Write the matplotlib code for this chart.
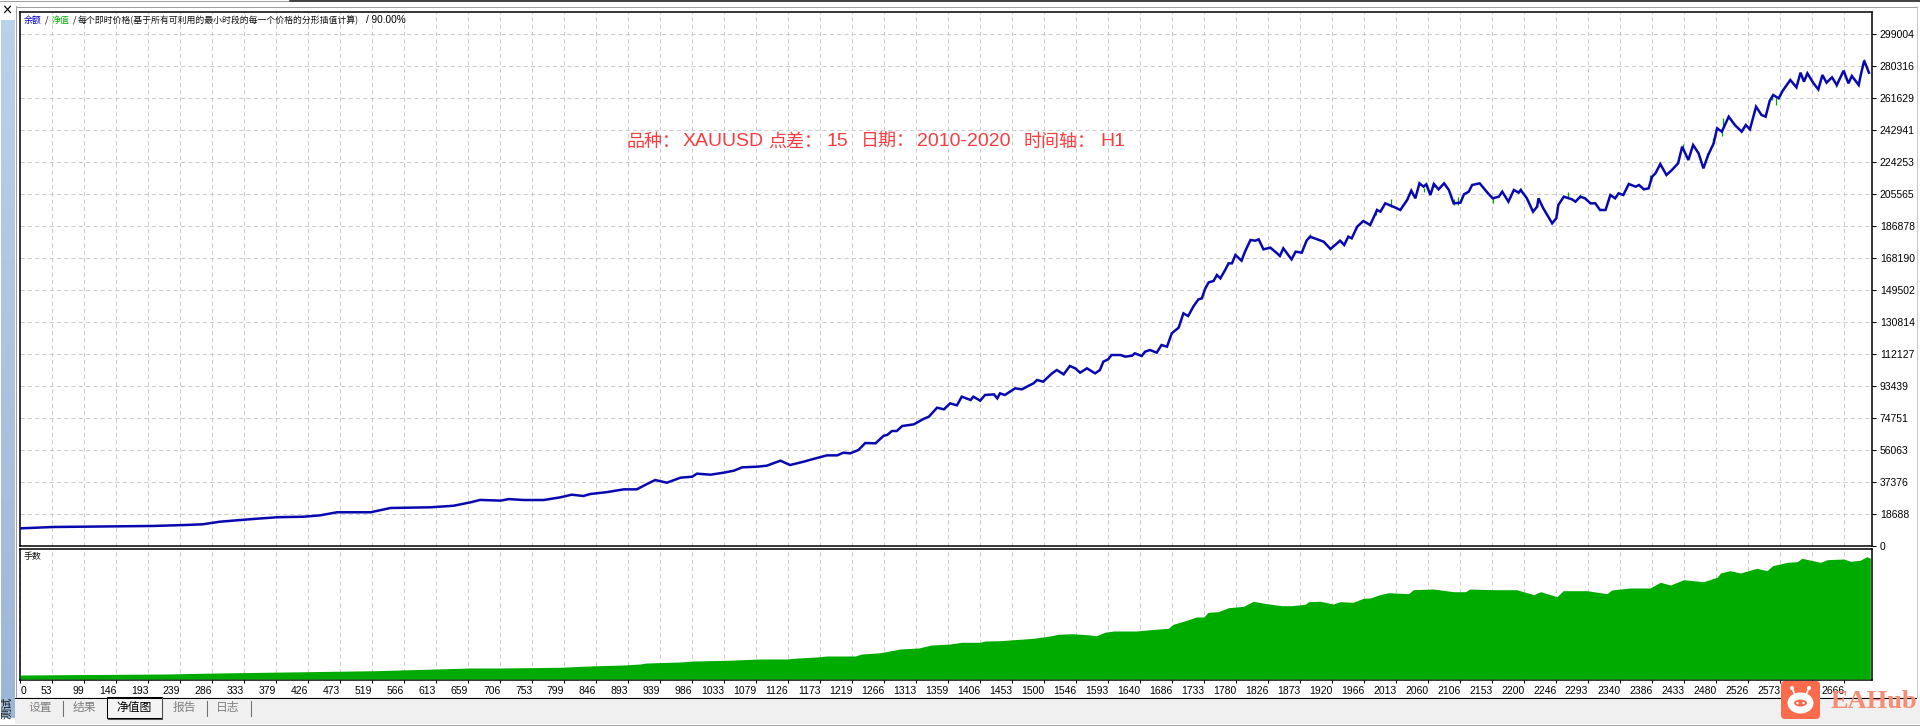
import numpy as np
import matplotlib
matplotlib.use('Agg')
import matplotlib.pyplot as plt
from matplotlib.patches import FancyBboxPatch, Rectangle, Ellipse

plt.rcParams['font.family'] = ['Noto Sans CJK SC', 'DejaVu Sans']

# balance curve
balance_trades = [0, 48, 98, 146, 194, 244, 267, 292, 341, 376, 414, 438, 463, 512, 541, 599, 633, 658, 672, 702,
  714, 736, 765, 789, 806, 823, 833, 858, 882, 901, 916, 928, 945, 965, 982, 989, 1009, 1028, 1043, 1055,
  1077, 1091, 1111, 1125, 1145, 1157, 1179, 1194, 1203, 1213, 1225, 1235, 1250, 1262, 1267, 1274, 1281, 1289, 1306, 1320,
  1328, 1340, 1350, 1359, 1369, 1376, 1389, 1393, 1403, 1410, 1423, 1428, 1432, 1439, 1454, 1464, 1474, 1481, 1486, 1495,
  1508, 1515, 1525, 1534, 1542, 1549, 1559, 1571, 1578, 1583, 1590, 1595, 1608, 1615, 1625, 1629, 1639, 1644, 1651, 1661,
  1668, 1676, 1683, 1693, 1700, 1707, 1715, 1722, 1727, 1732, 1737, 1744, 1749, 1754, 1761, 1766, 1771, 1776, 1785, 1790,
  1798, 1805, 1810, 1817, 1827, 1837, 1841, 1846, 1858, 1864, 1873, 1880, 1885, 1905, 1915, 1929, 1935, 1941, 1946, 1954,
  1963, 1973, 1983, 1988, 1995, 2010, 2017, 2027, 2033, 2039, 2045, 2051, 2055, 2061, 2066, 2073, 2081, 2088, 2095, 2105,
  2110, 2117, 2122, 2133, 2144, 2152, 2161, 2166, 2175, 2183, 2190, 2193, 2202, 2211, 2217, 2219, 2226, 2239, 2245, 2248,
  2256, 2268, 2273, 2280, 2287, 2295, 2302, 2309, 2317, 2324, 2331, 2336, 2343, 2351, 2361, 2366, 2373, 2380, 2385, 2390,
  2397, 2406, 2414, 2423, 2429, 2438, 2445, 2453, 2460, 2467, 2475, 2480, 2487, 2497, 2506, 2516, 2522, 2528, 2537, 2545,
  2551, 2557, 2562, 2570, 2576, 2587, 2596, 2602, 2607, 2612, 2621, 2628, 2634, 2640, 2648, 2655, 2665, 2672, 2677, 2687,
  2690, 2695, 2702]
balance_values = [10300, 11100, 11300, 11500, 11700, 12300, 12700, 14200, 15800, 16800, 17100, 17900, 19700, 19700, 22200, 22600, 23500, 25500, 26900, 26500,
  27400, 26850, 26850, 28400, 29960, 29200, 30350, 31500, 33080, 33080, 36200, 38530, 36970, 39900, 40480, 42230, 41650, 42820, 43980, 45930,
  46320, 46900, 49830, 47300, 49240, 50600, 52940, 52940, 54500, 54110, 56060, 60140, 59950, 64430, 64820, 67150, 67150, 70070, 71050, 74160,
  75530, 80780, 79810, 83310, 82150, 87210, 85260, 87210, 84870, 88180, 88570, 86230, 89150, 88180, 92080, 91490, 93630, 95000, 96940, 95970,
  100830, 102780, 100250, 105120, 103750, 101220, 103750, 100830, 102780, 107650, 109010, 111540, 111540, 110570, 111150, 112520, 110960, 113490, 114460, 112910,
  117380, 116410, 124200, 127500, 135880, 134310, 140160, 144050, 144640, 150480, 153980, 154760, 158260, 156320, 161180, 165080, 165080, 169940, 166630, 171890,
  178700, 178310, 179090, 173250, 174230, 170920, 169360, 173840, 167410, 171890, 171300, 178310, 180650, 177730, 173450, 178310, 175780, 180650, 179680, 186490,
  189800, 187460, 196220, 195250, 200120, 197590, 196220, 202060, 207520, 203040, 211800, 209850, 211210, 204980, 211410, 208290, 211800, 207900, 200120, 200510,
  205370, 206930, 210820, 211800, 206540, 203040, 204010, 206930, 201090, 207900, 206350, 207900, 203040, 195250, 198170, 203040, 197200, 188440, 191360, 199140,
  204010, 202450, 201090, 204010, 203040, 200120, 200120, 196220, 196220, 204980, 203040, 205950, 204980, 211410, 209850, 210820, 208290, 208880, 215690, 217640,
  223090, 216660, 219580, 223470, 233210, 225420, 234180, 229310, 220560, 228340, 235150, 243920, 241970, 250730, 245860, 241970, 245860, 243330, 256560, 251700,
  250730, 260070, 263380, 261430, 265910, 272140, 267860, 276430, 271170, 276040, 270200, 266690, 275060, 270590, 273700, 269220, 277590, 270200, 274480, 269220,
  275060, 283430, 276430]

# green equity spikes showing from under the balance line
spike_trades = [1885, 1982, 2004, 2051, 2066, 2096, 2102, 2152, 2193, 2246, 2262, 2279, 2382, 2430, 2465, 2474, 2487, 2489, 2560, 2566, 2654, 2695]
spike_high = [182210, 197590, 202460, 208880, 212190, 202460, 203620, 203040, 209270, 196220, 206540, 205370, 216660, 234570, 229310, 238080, 241970, 249760, 262410, 261430, 270200, 284210]
spike_low = [179680, 193300, 198170, 206730, 209850, 199140, 199140, 200120, 206930, 193300, 204010, 203040, 212770, 232230, 226390, 234770, 239440, 244890, 260480, 257540, 268250, 281880]

# lots panel
lots_trades = [0, 212, 288, 519, 658, 702, 789, 830, 882, 906, 915, 964, 984, 1033, 1081, 1120, 1137, 1164, 1179, 1220,
  1230, 1257, 1276, 1286, 1313, 1332, 1359, 1376, 1403, 1410, 1432, 1481, 1505, 1517, 1537, 1559, 1573, 1585, 1598, 1632,
  1651, 1678, 1685, 1700, 1719, 1730, 1736, 1751, 1766, 1788, 1802, 1822, 1844, 1858, 1878, 1883, 1900, 1919, 1929, 1948,
  1963, 1973, 1987, 2000, 2029, 2036, 2065, 2095, 2112, 2119, 2151, 2163, 2187, 2212, 2222, 2246, 2255, 2290, 2319, 2326,
  2353, 2382, 2397, 2412, 2431, 2460, 2480, 2485, 2499, 2514, 2538, 2553, 2561, 2583, 2597, 2604, 2631, 2641, 2665, 2675,
  2689, 2699, 2704]
lots_values = [4, 5, 6, 8.3, 11, 11, 11.7, 13, 14, 15, 16, 17, 18, 18.7, 20, 20, 21, 22, 23, 23,
  25, 26.3, 28.7, 30, 31, 34, 35, 36.7, 36.7, 38, 38.3, 40.7, 43, 44.7, 45.3, 44.3, 43.3, 46.7, 48, 48,
  49.3, 50.7, 54.7, 57.7, 62, 62, 66.7, 67.3, 71.3, 72.7, 77.7, 75.3, 73.3, 73.3, 74.7, 77.3, 77.7, 75, 77.3, 76.7,
  80.7, 81, 84.3, 86.3, 85.3, 89.3, 90, 87.3, 87.3, 90, 89.3, 89.3, 89.3, 84.3, 87.3, 82.3, 88.3, 88.3, 85.3, 89,
  91, 91, 96.7, 94, 99.3, 97.3, 101.7, 106, 108.3, 106, 110.7, 108.3, 113.3, 116.7, 117.3, 120.7, 116.7, 119.3, 120, 117.7,
  118.7, 122.3, 120.7]

y_ticks = [0, 18688, 37376, 56063, 74751, 93439, 112127, 130814, 149502, 168190, 186878, 205565, 224253, 242941, 261629, 280316, 299004]
x_labels = ['0', '53', '99', '146', '193', '239', '286', '333', '379', '426', '473', '519', '566', '613', '659', '706', '753', '799', '846', '893',
  '939', '986', '1033', '1079', '1126', '1173', '1219', '1266', '1313', '1359', '1406', '1453', '1500', '1546', '1593', '1640', '1686', '1733', '1780', '1826',
  '1873', '1920', '1966', '2013', '2060', '2106', '2153', '2200', '2246', '2293', '2340', '2386', '2433', '2480', '2526', '2573', '2620', '2666']

W, H = 1920, 726
tick_step = 32 * 1.4616
grid_style = dict(color='#cccccc', lw=0.75, ls=(0, (4, 3)))

def px_axes(x0, y0, x1, y1, **kw):
  return fig.add_axes([x0 / W, 1 - y1 / H, (x1 - x0) / W, (y1 - y0) / H], **kw)

fig = plt.figure(figsize=(W / 100, H / 100), dpi=100, facecolor='white')

# window chrome, in pixels
bg = fig.add_axes([0, 0, 1, 1], zorder=0)
bg.imshow(np.linspace(0, 1, 64).reshape(-1, 1), extent=(1, 15, 718, 20), aspect='auto', cmap=matplotlib.colors.LinearSegmentedColormap.from_list('side', ['#bad1ea', '#9cb7d6']))
bg.set_xlim(0, W)
bg.set_ylim(H, 0)
bg.axis('off')
bg.plot([15.5, 15.5], [6, 697], color='#a0a0a0', lw=0.75)
bg.plot([15.5, 1917], [6.5, 6.5], color='#a0a0a0', lw=0.75)
bg.plot([1917, 1917], [6, 697], color='#c8c8c8', lw=0.75)
bg.plot([0, 288], [1, 1], color='#a0a0a0', lw=0.75)
bg.plot([290, W], [1, 1], color='#202020', lw=1.2)
bg.add_patch(Rectangle((15, 697), 1905, 27, fc='#f0f0f0', ec='none'))
bg.plot([15, 1916], [697.5, 697.5], color='black', lw=0.75)
bg.plot([0, W], [725, 725], color='#a8a8a8', lw=0.75)
bg.add_patch(Rectangle((107, 697), 55, 21, fc='#f4f4f4', ec='black', lw=0.75))
bg.plot([108, 162, 162], [719, 719, 698], color='#505050', lw=0.75)
bg.text(7, 11, '×', fontsize=8, ha='center', va='center', fontweight='bold')
bg.text(7.5, 708, '测试', fontsize=8, rotation=90, ha='center', va='center', color='#101010')
for name, cx, col in [('设置', 40, '#808080'), ('结果', 84, '#808080'), ('净值图', 134, 'black'), ('报告', 184, '#808080'), ('日志', 228, '#808080')]:
  bg.text(cx, 707, name, fontsize=8.5, ha='center', va='center', color=col)
for sx in [62.5, 206.5, 250.5]:
  bg.plot([sx, sx], [701, 716], color='#707070', lw=0.75)

# balance panel
ax = px_axes(20.3, 12, 1871.5, 546, zorder=2)
ax.vlines(spike_trades, spike_low, spike_high, color='#00a000', lw=0.9, zorder=2.5)
ax.plot(balance_trades, balance_values, color='#0808b0', lw=1.8, solid_joinstyle='miter', zorder=3)
ax.set_xlim(0, (1871.5 - 20.3) * 1.4616)
ax.set_ylim(0, 534 * 584)
ax.set_yticks(y_ticks)
ax.set_yticklabels([str(v) for v in y_ticks])
ax.yaxis.tick_right()
ax.set_xticks(np.arange(1, 58) * tick_step)
ax.tick_params(axis='x', length=0, labelbottom=False)
ax.tick_params(axis='y', length=3, width=0.75, pad=3, labelsize=7.5, labelfontfamily='Liberation Sans')
ax.grid(True, **grid_style)
ax.set_axisbelow(True)

# text on top of the panel
head = [(24, '余额', '#0000c8'), (45, '/', 'black'), (52, '净值', '#00b000'), (73, '/', 'black'),
  (78, '每个即时价格(基于所有可利用的最小时段的每一个价格的分形插值计算)', '#101010')]
for hx, txt, col in head:
  ax.annotate(txt, xy=(hx, H - 20), xycoords='figure pixels', fontsize=6.4, color=col, va='center')
ax.annotate('/ 90.00%', xy=(366, H - 20), xycoords='figure pixels', fontsize=7.2, color='black', va='center', family='Liberation Sans')

red_parts = [(627, '品种：', 0), (683, 'XAUUSD', 1), (768, '点差：', 0), (827, '15', 1), (861, '日期：', 0), (917, '2010-2020', 1), (1024, '时间轴：', 0), (1100, 'H1', 1)]
for rx, txt, latin in red_parts:
  if latin:
    ax.annotate(txt, xy=(rx, H - 142), xycoords='figure pixels', fontsize=14, color='#fb3b3f', va='center', family='Liberation Sans')
  else:
    ax.annotate(txt, xy=(rx, H - 142), xycoords='figure pixels', fontsize=13, color='#fb3b3f', va='center')

# lots panel
ax2 = px_axes(20.3, 548.5, 1871.5, 680, zorder=2)
ax2.fill_between(lots_trades, lots_values, 0, color='#00ab00', lw=0, zorder=3)
ax2.set_xlim(0, (1871.5 - 20.3) * 1.4616)
ax2.set_ylim(-1, 130.5)
ax2.set_yticks([])
ax2.set_xticks(np.arange(58) * tick_step)
ax2.set_xticklabels(x_labels)
for lab in ax2.get_xticklabels():
  lab.set_horizontalalignment('right')
  lab.set_fontfamily('Liberation Sans')
  lab.set_fontsize(7.5)
ax2.get_xticklabels()[0].set_horizontalalignment('left')
ax2.tick_params(axis='x', length=2.5, width=0.75, pad=2)
ax2.grid(True, axis='x', **grid_style)
ax2.set_axisbelow(True)
ax2.annotate('手数', xy=(24, H - 557), xycoords='figure pixels', fontsize=6.4, color='#101010', va='center')

for a in (ax, ax2):
  for s in a.spines.values():
    s.set_linewidth(1.1)
    s.set_color('black')

# watermark
top = fig.add_axes([0, 0, 1, 1], zorder=5)
top.set_xlim(0, W)
top.set_ylim(H, 0)
top.axis('off')
top.patch.set_alpha(0)
top.add_patch(FancyBboxPatch((1781, 681), 39, 38, boxstyle='round,pad=0,rounding_size=4', fc='#fd6b4d', ec='none'))
top.add_patch(Ellipse((1800.5, 703), 26, 21, fc='white', ec='none'))
top.add_patch(Ellipse((1800.5, 703), 13, 7, fc='#fd6b4d', ec='none'))
top.add_patch(Ellipse((1797.5, 703), 2.4, 2.4, fc='white', ec='none'))
top.add_patch(Ellipse((1803.5, 703), 2.4, 2.4, fc='white', ec='none'))
top.add_patch(Ellipse((1792, 688), 4, 4, fc='white', ec='none'))
top.add_patch(Ellipse((1809, 688), 4, 4, fc='white', ec='none'))
top.plot([1792, 1795], [688, 695], color='white', lw=1.2)
top.plot([1809, 1806], [688, 695], color='white', lw=1.2)
top.text(1831, 701, 'EAHub', fontsize=19, family='Liberation Serif', fontweight='bold', color='#f58d74', va='center')

fig.savefig('out.png', dpi=100)
